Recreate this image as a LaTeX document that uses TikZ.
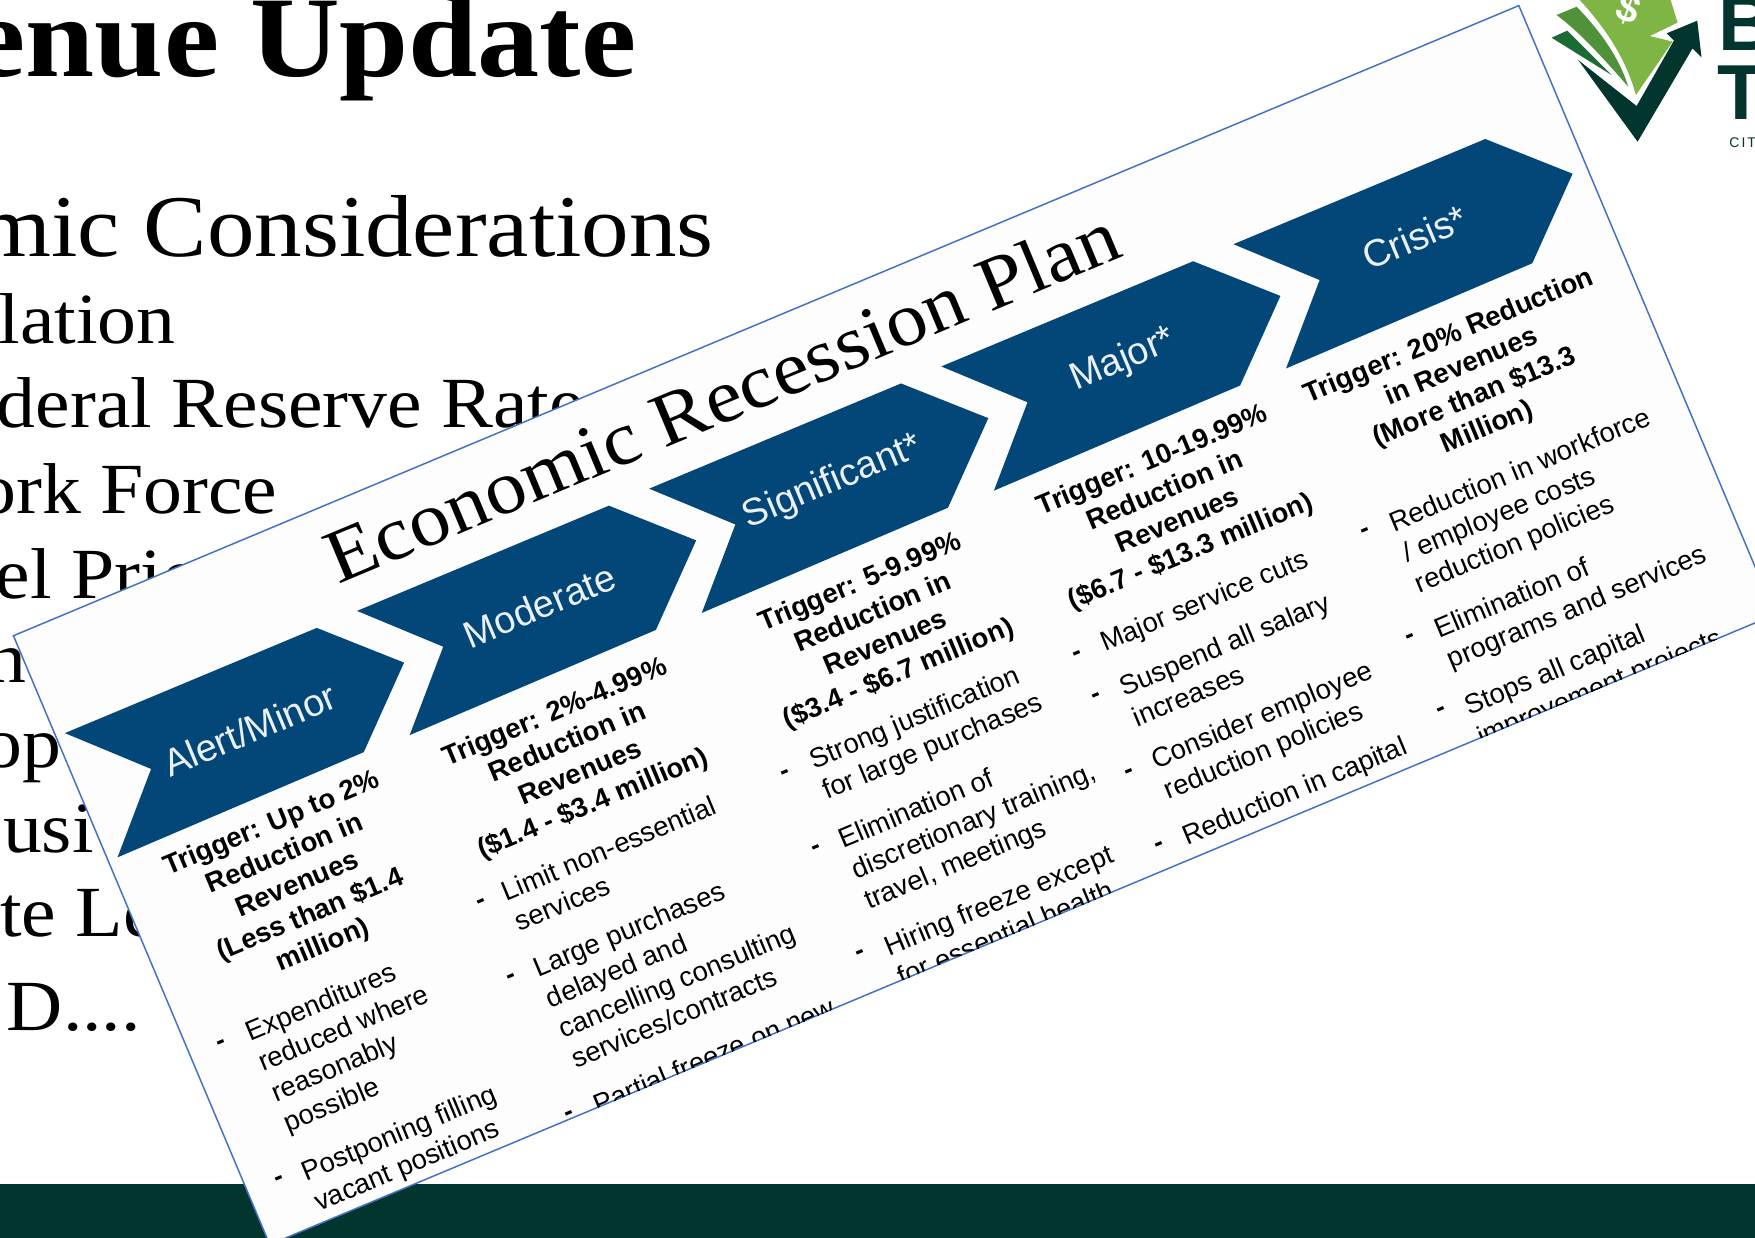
\documentclass[tikz,border=0pt]{standalone}
\usepackage{fontspec}
\setmainfont[FakeStretch=1.08]{Liberation Serif}
\setsansfont{Liberation Sans}
\definecolor{bandgreen}{HTML}{03352F}
\definecolor{billgreen}{HTML}{7FB545}
\definecolor{midgreen}{HTML}{4F9239}
\definecolor{leafgreen}{HTML}{1D6B34}
\definecolor{bannerblue}{HTML}{034678}
\definecolor{edgeblue}{HTML}{4472C4}
\definecolor{cardwhite}{HTML}{FDFDFD}
\tikzset{
  bigline/.style={anchor=base east, inner sep=0pt, font=\fontsize{88}{100}\selectfont},
  subline/.style={anchor=base east, inner sep=0pt, font=\fontsize{72}{84}\selectfont},
  banner/.style={rotate=22.7, inner sep=0pt, text=white!92!bannerblue, font=\sffamily\fontsize{38}{42}\selectfont},
  trigger/.style={rotate=22.7, inner sep=0pt, align=center, font=\sffamily\bfseries\fontsize{27.6}{33}\selectfont},
  item/.style={rotate=22.7, xshift=3.5pt, yshift=12pt, anchor=north west, inner sep=0pt, align=left, font=\sffamily\fontsize{27.5}{33}\selectfont},
  dashmark/.style={rotate=22.7, xshift=1pt, yshift=-2pt, inner sep=0pt, font=\sffamily\bfseries\fontsize{27}{33}\selectfont}
}
\begin{document}
\begin{tikzpicture}[x=1.1193pt, y=-1.1193pt]
  \newcommand\X{261};
  \newcommand\Y{-109.2};

  \clip (0,0) rectangle (1568,1106);

  % slide behind
  \fill[bandgreen] (0,1058) rectangle (1568,1106);
  \node[anchor=base east, inner sep=0pt, font=\bfseries\fontsize{115}{120}\selectfont] (heading) at (569,68) {enue Update};
  \node[bigline] (econ) at (638,229) {mic Considerations};
  \node[subline] (infl) at (157,307) {lation};
  \node[subline] (fed) at (522,382) {deral Reserve Rate};
  \node[subline] (work) at (248,459) {ork Force};
  \node[subline] (fuel) at (176,535) {el Pric};
  \node[subline] (line6) at (24,610) {n};
  \node[subline] (shop) at (55,686) {op};
  \node[subline] (hous) at (84,762) {usi};
  \node[subline] (lead) at (141,837) {te Le};
  \node[subline] (gdp) at (126,921) {D....};

  % logo
  \fill[billgreen] (1409.5,-2) .. controls (1432,22) and (1452,50) .. (1461.6,84.9) -- (1494.4,37.2) -- (1474,32.2) -- (1498.8,20.2) -- (1492,-2) -- cycle;
  \fill[midgreen] (1390.7,13.4) -- (1408.6,6) .. controls (1430,28) and (1447,52) .. (1454.7,77.4) .. controls (1435,55) and (1413,30) .. (1390.7,13.4) -- cycle;
  \fill[leafgreen] (1386.2,33.7) -- (1400.2,27.4) -- (1439.8,67) -- cycle;
  \fill[bandgreen] (1410,53.6) -- (1462.2,94.7) -- (1495.5,36.3) -- (1489,29.8) -- (1516.4,18.5) -- (1520.2,51.2) -- (1512.2,43.2) -- (1463.1,126.6) -- cycle;
  \node[rotate=-20, inner sep=0pt, text=white, font=\sffamily\bfseries\fontsize{40}{44}\selectfont] (dollar) at (1455,8) {\$};
  \node[anchor=base west, inner sep=0pt, text=bandgreen, font=\sffamily\bfseries\fontsize{78}{80}\selectfont] (logob) at (1535,45) {B};
  \node[anchor=base west, inner sep=0pt, text=bandgreen, font=\sffamily\bfseries\fontsize{78}{80}\selectfont] (logot) at (1534,107) {T};
  \node[anchor=base west, inner sep=0pt, text=bandgreen, font=\sffamily\fontsize{14}{16}\selectfont] (logoc) at (1545,132) {\addfontfeature{LetterSpace=14}CIT};

  % the pasted card
  \draw[fill=cardwhite, draw=edgeblue, line width=1.5pt] (12,568) -- (1357,5) -- (1586,549) -- (241,1112) -- cycle;
  \clip (12,568) -- (1357,5) -- (1586,549) -- (241,1112) -- cycle;

  \node[rotate=22.7, inner sep=0pt, font=\fontsize{76}{90}\selectfont] (plan) at (645,354) {Economic Recession Plan};

  \foreach \k in {0,...,4}
    \fill[bannerblue, shift={(\k*\X, \k*\Y)}] (58,655) -- (135,687) -- (105,766) -- (325,672) -- (361,592) -- (283,561) -- cycle;

  \node[banner] (alert) at (223,652) {Alert/Minor};
  \node[banner] (moderate) at (482,541) {Moderate};
  \node[banner] (significant) at (744,431) {Significant*};
  \node[banner] (major) at (1003.5,322) {Major*};
  \node[banner] (crisis) at (1264,212) {Crisis*};

  % first column
  \node[trigger] (t1) at (266,791) {Trigger: Up to 2\%\\Reduction in\\Revenues\\(Less than \$1.4\\million)};
  \node[dashmark] (d11) at (197,932) {-};
  \node[item] (i11) at (218,925) {Expenditures\\reduced where\\reasonably\\possible};
  \node[dashmark] (d12) at (249,1054) {-};
  \node[item] (i12) at (268,1050) {Postponing filling\\vacant positions};

  % second column
  \node[trigger] (t2) at (513,678) {Trigger: 2\%-4.99\%\\Reduction in\\Revenues\\(\$1.4 - \$3.4 million)};
  \node[dashmark] (d21) at (429,806) {-};
  \node[item] (i21) at (447,800) {Limit non-essential\\services};
  \node[dashmark] (d22) at (456,873) {-};
  \node[item] (i22) at (475,868) {Large purchases\\delayed and\\cancelling consulting\\services/contracts};
  \node[dashmark] (d23) at (508,996) {-};
  \node[item] (i23) at (529,990) {Partial freeze on new};

  % third column
  \node[trigger] (t3) at (786,562) {Trigger: 5-9.99\%\\Reduction in\\Revenues\\(\$3.4 - \$6.7 million)};
  \node[dashmark] (d31) at (701,691) {-};
  \node[item] (i31) at (722,682) {Strong justification\\for large purchases};
  \node[dashmark] (d32) at (728,758) {-};
  \node[item] (i32) at (748,753) {Elimination of\\discretionary training,\\travel, meetings};
  \node[dashmark] (d33) at (768,852) {-};
  \node[item] (i33) at (789,849) {Hiring freeze except\\for essential health};

  % fourth column
  \node[trigger] (t4) at (1047,453) {Trigger: 10-19.99\%\\Reduction in\\Revenues\\(\$6.7 - \$13.3 million)};
  \node[dashmark] (d41) at (962,585) {-};
  \node[item] (i41) at (982,577) {Major service cuts};
  \node[dashmark] (d42) at (979,622) {-};
  \node[item] (i42) at (999,617) {Suspend all salary\\increases};
  \node[dashmark] (d43) at (1008,690) {-};
  \node[item] (i43) at (1027,682) {Consider employee\\reduction policies};
  \node[dashmark] (d44) at (1035,755) {-};
  \node[item] (i44) at (1055,750) {Reduction in capital};

  % fifth column
  \node[trigger] (t5) at (1312,342) {Trigger: 20\% Reduction\\in Revenues\\(More than \$13.3\\Million)};
  \node[dashmark] (d51) at (1219,475) {-};
  \node[item] (i51) at (1240,470) {Reduction in workforce\\/ employee costs\\reduction policies};
  \node[dashmark] (d52) at (1259,569) {-};
  \node[item] (i52) at (1280,565) {Elimination of\\programs and services};
  \node[dashmark] (d53) at (1287,635) {-};
  \node[item] (i53) at (1307,634) {Stops all capital\\improvement projects};
\end{tikzpicture}
\end{document}
